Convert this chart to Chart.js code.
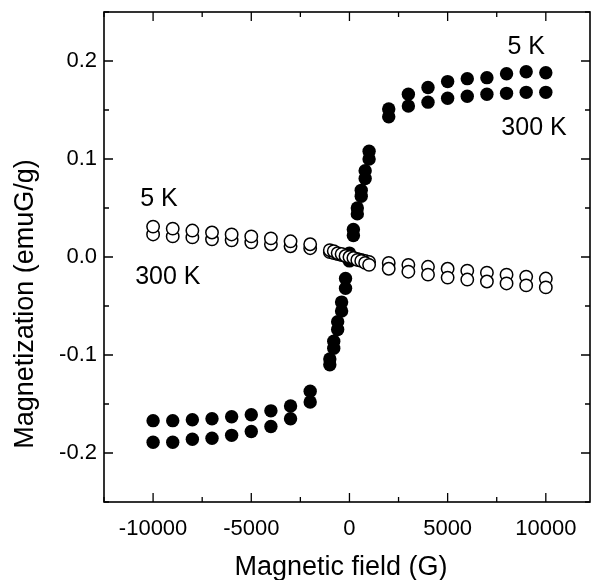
<!DOCTYPE html>
<html>
<head>
<meta charset="utf-8">
<script src="https://cdn.jsdelivr.net/npm/chart.js@4.4.1/dist/chart.umd.min.js"></script>
<style>
  html, body { margin: 0; padding: 0; background: #fff; }
  #wrap { width: 591px; height: 580px; }
</style>
</head>
<body>
<div id="wrap"><canvas id="chart" width="591" height="580"></canvas></div>
<script>
// Campo magnético (G) de cada medida
const fields = [-10000, -9000, -8000, -7000, -6000, -5000, -4000, -3000, -2000,
  -1000, -800, -600, -400, -200, 0, 200, 400, 600, 800, 1000,
  2000, 3000, 4000, 5000, 6000, 7000, 8000, 9000, 10000];

// Muestra ferromagnética (círculos llenos)
const filled5K = [-0.189, -0.189, -0.186, -0.185, -0.182, -0.178, -0.173, -0.165, -0.148,
  -0.110, -0.093, -0.074, -0.055, -0.032, -0.004, 0.028, 0.050, 0.068, 0.088, 0.108,
  0.151, 0.166, 0.173, 0.179, 0.182, 0.183, 0.187, 0.189, 0.188];
const filled300K = [-0.167, -0.167, -0.166, -0.165, -0.163, -0.161, -0.157, -0.152, -0.137,
  -0.104, -0.086, -0.066, -0.046, -0.022, 0.004, 0.022, 0.044, 0.062, 0.080, 0.100,
  0.143, 0.154, 0.158, 0.162, 0.164, 0.166, 0.167, 0.168, 0.168];

// Muestra diamagnética (círculos abiertos)
const open5K = [0.031, 0.029, 0.027, 0.025, 0.023, 0.021, 0.019, 0.016, 0.013,
  0.007, 0.006, 0.004, 0.003, 0.001, 0.000, -0.001, -0.003, -0.004, -0.006, -0.008,
  -0.012, -0.015, -0.018, -0.021, -0.023, -0.025, -0.027, -0.029, -0.031];
const open300K = [0.023, 0.021, 0.020, 0.018, 0.017, 0.015, 0.013, 0.011, 0.009,
  0.005, 0.004, 0.003, 0.002, 0.001, 0.000, -0.001, -0.002, -0.003, -0.004, -0.005,
  -0.006, -0.008, -0.010, -0.012, -0.014, -0.016, -0.018, -0.020, -0.022];

// Marcas de los ejes
const xMajor = [-10000, -5000, 0, 5000, 10000];
const xMinor = [-12500, -7500, -2500, 2500, 7500];
const yMajor = [-0.2, -0.1, 0.0, 0.1, 0.2];
const yMinor = [-0.25, -0.15, -0.05, 0.05, 0.15, 0.25];

const xTitle = 'Magnetic field (G)';
const yTitle = 'Magnetization (emuG/g)';

// Etiquetas de temperatura, en unidades de los datos
const notes = [
  { text: '5 K', x: 9000, y: 0.214 },
  { text: '300 K', x: 9400, y: 0.132 },
  { text: '5 K', x: -9700, y: 0.059 },
  { text: '300 K', x: -9250, y: -0.021 }
];

const FONT = '"Liberation Sans", Arial, sans-serif';
const toPoints = vals => fields.map((f, i) => ({ x: f, y: vals[i] }));
const isIn = (list, v) => list.some(m => Math.abs(m - v) < 1e-9);

const frameAndText = {
  id: 'frameAndText',
  afterDraw(chart) {
    const { ctx, chartArea: a, scales: { x, y } } = chart;
    ctx.save();
    ctx.strokeStyle = '#000';
    ctx.lineWidth = 1.6;
    ctx.strokeRect(a.left, a.top, a.right - a.left, a.bottom - a.top);

    // marcas hacia adentro en los cuatro lados
    ctx.lineWidth = 1.3;
    ctx.beginPath();
    x.ticks.forEach(t => {
      const px = x.getPixelForValue(t.value);
      const len = isIn(xMajor, t.value) ? 9 : 5;
      ctx.moveTo(px, a.bottom); ctx.lineTo(px, a.bottom - len);
      ctx.moveTo(px, a.top); ctx.lineTo(px, a.top + len);
    });
    y.ticks.forEach(t => {
      const py = y.getPixelForValue(t.value);
      const len = isIn(yMajor, t.value) ? 9 : 5;
      ctx.moveTo(a.left, py); ctx.lineTo(a.left + len, py);
      ctx.moveTo(a.right, py); ctx.lineTo(a.right - len, py);
    });
    ctx.stroke();

    ctx.fillStyle = '#000';
    ctx.textAlign = 'center';
    ctx.textBaseline = 'middle';
    ctx.font = '25px ' + FONT;
    notes.forEach(n => {
      ctx.fillText(n.text, x.getPixelForValue(n.x), y.getPixelForValue(n.y));
    });

    ctx.font = '27px ' + FONT;
    ctx.textBaseline = 'alphabetic';
    ctx.fillText(xTitle, 341, 575);
    ctx.translate(33, 304);
    ctx.rotate(-Math.PI / 2);
    ctx.fillText(yTitle, 0, 0);
    ctx.restore();
  }
};

new Chart(document.getElementById('chart').getContext('2d'), {
  type: 'scatter',
  data: {
    datasets: [
      { label: '5 K abierto', data: toPoints(open5K), backgroundColor: '#fff',
        borderColor: '#000', borderWidth: 1.5, pointRadius: 6.2 },
      { label: '300 K abierto', data: toPoints(open300K), backgroundColor: '#fff',
        borderColor: '#000', borderWidth: 1.5, pointRadius: 6.2 },
      { label: '5 K lleno', data: toPoints(filled5K), backgroundColor: '#000',
        borderWidth: 0, pointRadius: 6.7 },
      { label: '300 K lleno', data: toPoints(filled300K), backgroundColor: '#000',
        borderWidth: 0, pointRadius: 6.7 }
    ]
  },
  options: {
    responsive: false,
    animation: false,
    layout: { autoPadding: false, padding: { top: 12, right: 1, left: 0, bottom: 0 } },
    plugins: { legend: { display: false }, tooltip: { enabled: false } },
    scales: {
      x: {
        type: 'linear',
        min: -12500,
        max: 12250,
        grid: { display: false, drawTicks: false },
        border: { display: false },
        afterBuildTicks: s => { s.ticks = xMinor.concat(xMajor).sort((p, q) => p - q).map(v => ({ value: v })); },
        afterFit: s => { s.height = 78; s.paddingLeft = 0; s.paddingRight = 0; },
        ticks: {
          autoSkip: false,
          maxRotation: 0,
          padding: 14,
          color: '#000',
          font: { family: FONT, size: 22 },
          callback: v => isIn(xMajor, v) ? String(v) : ''
        }
      },
      y: {
        type: 'linear',
        min: -0.25,
        max: 0.25,
        grid: { display: false, drawTicks: false },
        border: { display: false },
        afterBuildTicks: s => { s.ticks = yMinor.concat(yMajor).sort((p, q) => p - q).map(v => ({ value: v })); },
        afterFit: s => { s.width = 104; s.paddingTop = 0; s.paddingBottom = 0; },
        ticks: {
          autoSkip: false,
          padding: 7,
          color: '#000',
          font: { family: FONT, size: 22 },
          callback: v => isIn(yMajor, v) ? v.toFixed(1) : ''
        }
      }
    }
  },
  plugins: [frameAndText]
});
</script>
</body>
</html>
